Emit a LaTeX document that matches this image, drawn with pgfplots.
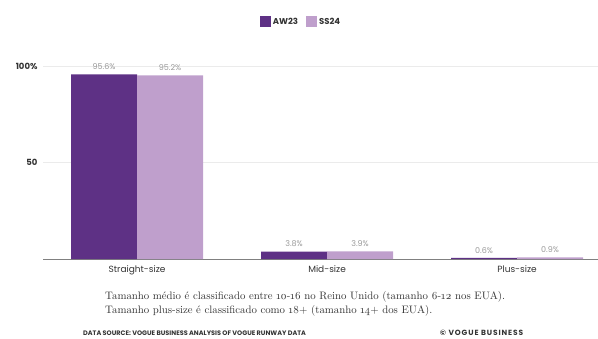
\documentclass[border=0pt]{standalone}
\usepackage{pgfplots}
\pgfplotsset{compat=1.18}
\usepackage{fontspec}
\setmainfont{Latin Modern Roman}[Numbers=OldStyle]
\newfontfamily\popp{Poppins}
\newfontfamily\poppls{Poppins}[LetterSpace=12]
\definecolor{aw}{HTML}{5E3185}
\definecolor{ss}{HTML}{BF9FCC}
\definecolor{lbl}{HTML}{999999}
\definecolor{txt}{HTML}{333333}
\begin{document}
\begin{tikzpicture}[x=1pt,y=1pt]
\path[use as bounding box] (0,0) rectangle (598,338);
\begin{axis}[
  at={(43pt,79pt)}, anchor=south west,
  scale only axis, width=555pt, height=193pt,
  xmin=-0.495, xmax=2.426, ymin=0, ymax=100,
  ybar=0pt, bar width=66pt,
  xtick={0,1,2}, xticklabels={Straight-size,Mid-size,Plus-size},
  ytick={50,100}, yticklabels={50,100\%},
  /pgf/number format/assume math mode=true,
  ymajorgrids, grid style={draw=black!8, line width=0.8pt},
  axis lines*=left,
  y axis line style={draw=none},
  x axis line style={draw=black!50, line width=0.8pt},
  major tick length=0pt,
  xticklabel style={font=\popp\fontsize{9}{10}\selectfont, text=txt, yshift=-3pt},
  yticklabel style={font=\popp\bfseries\fontsize{8.5}{10}\selectfont, text=txt, xshift=-2pt},
  nodes near coords={\pgfmathprintnumber[fixed,precision=1,fixed zerofill]{\pgfplotspointmeta}\%},
  every node near coord/.append style={font=\popp\fontsize{8}{10}\selectfont, text=lbl, yshift=1pt},
  legend style={at={(0.465,1.228)}, anchor=center, draw=none, legend columns=2,
    font=\popp\bfseries\fontsize{8.5}{10}\selectfont, text=txt,
    /tikz/every even column/.append style={column sep=6pt}},
  legend image code/.code={\fill (0pt,-5.5pt) rectangle (11pt,5.5pt);},
  clip=false,
]
\addplot[fill=aw, draw=none] coordinates {(0,95.6) (1,3.8) (2,0.6)};
\addplot[fill=ss, draw=none] coordinates {(0,95.2) (1,3.9) (2,0.9)};
\legend{AW23,SS24}
\end{axis}
\node[anchor=base west, font=\fontsize{10.8}{13}\selectfont, text=txt, inner xsep=0pt] at (105,38) {Tamanho médio é classificado entre 10-16 no Reino Unido (tamanho 6-12 nos EUA).};
\node[anchor=base west, font=\fontsize{10.8}{13}\selectfont, text=txt, inner xsep=0pt] at (105,25) {Tamanho plus-size é classificado como 18+ (tamanho 14+ dos EUA).};
\node[anchor=base west, font=\popp\bfseries\fontsize{6.5}{8}\selectfont, text=txt, inner sep=0pt] at (83,3) {DATA SOURCE: VOGUE BUSINESS ANALYSIS OF VOGUE RUNWAY DATA};
\node[anchor=base west, font=\poppls\bfseries\fontsize{7.5}{8}\selectfont, text=txt, inner sep=0pt] at (440,3) {© VOGUE BUSINESS};
\end{tikzpicture}
\end{document}
